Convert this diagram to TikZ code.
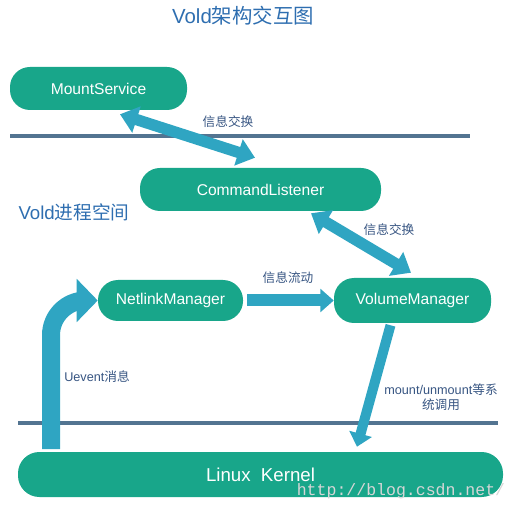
\documentclass[tikz,border=0pt]{standalone}
\usepackage{fontspec}
\setmainfont{Liberation Sans}
\newfontfamily\cjk{Noto Sans CJK SC}
\newfontfamily\wmfont{Liberation Mono}
\usepackage{tikz}
\usetikzlibrary{arrows.meta,positioning,calc}
\definecolor{nodegreen}{RGB}{24,166,138}
\definecolor{flowblue}{RGB}{47,165,194}
\definecolor{sepgray}{RGB}{83,116,145}
\definecolor{titleblue}{RGB}{46,110,176}
\definecolor{labelblue}{RGB}{55,85,130}

\begin{document}
\begin{tikzpicture}[x=0.75pt,y=-0.75pt,
  pill/.style={fill=nodegreen,text=white,rounded corners=15pt,inner sep=0pt,font=\fontsize{11.7}{14}\selectfont},
  sep/.style={draw=sepgray,line width=3pt},
  duplex/.style={{Triangle[width=20pt,length=13pt]}-{Triangle[width=20pt,length=13pt]},draw=flowblue,line width=8.5pt},
  flow/.style={-{Triangle[width=17pt,length=10pt]},draw=flowblue,line width=9pt},
  lbl/.style={text=labelblue,font=\fontsize{9.5}{12}\selectfont,inner sep=0pt},
  cjklbl/.style={lbl,font=\cjk\fontsize{9.5}{12}\selectfont},
  heading/.style={text=titleblue,inner sep=0pt}]
\useasboundingbox (0,0) rectangle (518,513);
\node[heading,font=\fontsize{15.3}{18}\selectfont] (title) at (243,16) {Vold{\cjk 架构交互图}};
\node[pill,minimum width=132.75pt,minimum height=32.25pt] (mount) at (98.5,88.5) {MountService};
\node[pill,minimum width=180.75pt,minimum height=32.25pt] (cmd) at (260.5,189.5) {CommandListener};
\node[heading,font=\fontsize{14}{17}\selectfont] (space) at (74,212) {Vold{\cjk 进程空间}};
\node[pill,minimum width=108.75pt,minimum height=30.75pt] (netlink) at (170.5,300.5) {NetlinkManager};
\node[pill,minimum width=117.75pt,minimum height=33.75pt] (volume) at (412.5,300.5) {VolumeManager};
\node[pill,minimum width=363.75pt,minimum height=33.75pt,rounded corners=16pt,font=\fontsize{14}{17}\selectfont] (kernel) at (260.5,474.5) {Linux\ \ Kernel};
\node[text=black!16,font=\wmfont\fontsize{12.4}{15}\selectfont,inner sep=0pt] (mark) at (401,491) {http://blog.csdn.net/};
\draw[sep] (10,136) coordinate (topl) -- (470,136) coordinate (topr);
\draw[sep] (18,423) coordinate (botl) -- (498,423) coordinate (botr);
\draw[duplex] ([shift={(21.5,4)}]mount.south) -- ([shift={(-5.5,-10)}]cmd.north);
\node[cjklbl] (msg1) at (228,122) {信息交换};
\draw[duplex] ([shift={(50.5,2)}]cmd.south) -- ([shift={(-1.5,-5)}]volume.north);
\node[cjklbl] (msg2) at (389,230) {信息交换};
\draw[flow,shorten <=3pt] (netlink.east) -- (volume.west);
\node[cjklbl] (msg3) at (288,278) {信息流动};
\draw[flow,line width=7.5pt] ([shift={(-22,2)}]volume.south) -- ([shift={(96.5,-5)}]kernel.north);
\node[lbl,align=center] (call) at (441,397) {mount/unmount{\cjk 等系}\\[-1pt]{\cjk 统调用}};
\coordinate (ueb) at (51,449);
\draw[draw=flowblue,line width=13.5pt,rounded corners=26pt,-{Triangle[width=31.5pt,length=15.75pt]}] (ueb) |- (netlink.west);
\node[lbl] (uevent) at (97,377) {Uevent{\cjk 消息}};
\end{tikzpicture}
\end{document}
